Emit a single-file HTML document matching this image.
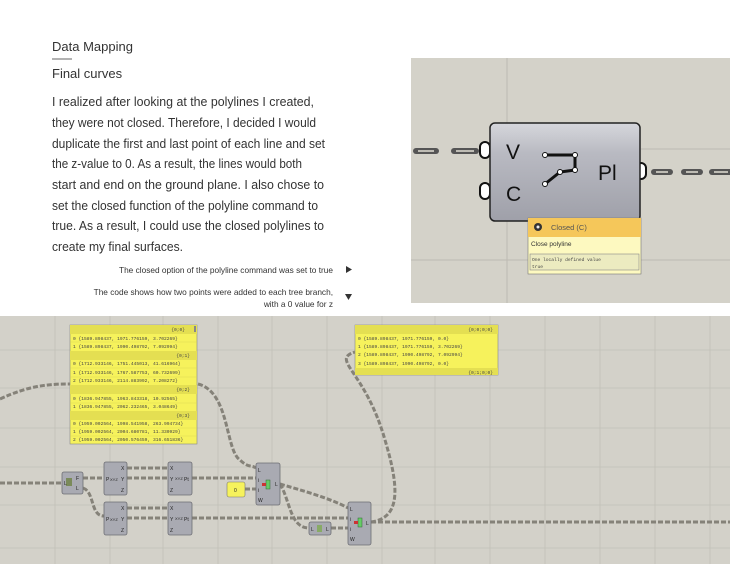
<!DOCTYPE html>
<html><head><meta charset="utf-8"><style>
html,body{margin:0;padding:0;background:#fff;width:730px;height:564px;overflow:hidden}
svg{display:block}
.t{font-family:"Liberation Sans",sans-serif;fill:#333}
.m{font-family:"Liberation Mono",monospace;font-size:4.6px;fill:#444}
.w{fill:none;stroke:#858279;stroke-width:3;stroke-dasharray:5 2}
.n{fill:#a9aab2;stroke:#6d6e74;stroke-width:0.8}
.nl{font-family:"Liberation Sans",sans-serif;font-size:5px;fill:#222}
</style></head><body>
<svg width="730" height="564" viewBox="0 0 730 564" xmlns="http://www.w3.org/2000/svg">
<rect width="730" height="564" fill="#fff"/>
<text class="t" x="52" y="51" font-size="13">Data Mapping</text>
<line x1="52" y1="59" x2="72" y2="59" stroke="#333" stroke-width="0.8"/>
<text class="t" x="52" y="78" font-size="13">Final curves</text>
<g class="t" font-size="12.6">
<text x="52" y="106" textLength="262" lengthAdjust="spacingAndGlyphs">I realized after looking at the polylines I created,</text>
<text x="52" y="127" textLength="264" lengthAdjust="spacingAndGlyphs">they were not closed. Therefore, I decided I would</text>
<text x="52" y="148" textLength="273" lengthAdjust="spacingAndGlyphs">duplicate the first and last point of each line and set</text>
<text x="52" y="168" textLength="250" lengthAdjust="spacingAndGlyphs">the z-value to 0. As a result, the lines would both</text>
<text x="52" y="189" textLength="272" lengthAdjust="spacingAndGlyphs">start and end on the ground plane. I also chose to</text>
<text x="52" y="210" textLength="266" lengthAdjust="spacingAndGlyphs">set the closed function of the polyline command to</text>
<text x="52" y="230" textLength="272" lengthAdjust="spacingAndGlyphs">true. As a result, I could use the closed polylines to</text>
<text x="52" y="251" textLength="131" lengthAdjust="spacingAndGlyphs">create my final surfaces.</text>
</g>
<g class="t" font-size="8.3" text-anchor="end">
<text x="333" y="273">The closed option of the polyline command was set to true</text>
<text x="333" y="295">The code shows how two points were added to each tree branch,</text>
<text x="333" y="307">with a 0 value for z</text>
</g>
<polygon points="346,266 352,269.5 346,273" fill="#333"/>
<polygon points="345,294 352,294 348.5,300" fill="#333"/>

<rect x="411" y="58" width="319" height="245" fill="#d4d2c9"/>
<line x1="507" y1="58" x2="507" y2="303" stroke="#bdbab2" stroke-width="1"/>
<line x1="641" y1="149" x2="730" y2="149" stroke="#bdbab2"/>
<line x1="411" y1="260" x2="730" y2="260" stroke="#bdbab2"/>
<g fill="none" stroke="#555" stroke-width="6" stroke-linecap="round">
<line x1="416" y1="151" x2="436" y2="151"/><line x1="454" y1="151" x2="476" y2="151"/>
<line x1="654" y1="172" x2="670" y2="172"/><line x1="684" y1="172" x2="700" y2="172"/><line x1="712" y1="172" x2="730" y2="172"/>
</g>
<g fill="none" stroke="#bebcb4" stroke-width="2"><line x1="418" y1="151" x2="434" y2="151"/><line x1="456" y1="151" x2="474" y2="151"/><line x1="656" y1="172" x2="668" y2="172"/><line x1="686" y1="172" x2="698" y2="172"/><line x1="714" y1="172" x2="728" y2="172"/></g>
<rect x="480" y="142" width="10" height="16" rx="5" fill="#fff" stroke="#111" stroke-width="2"/>
<rect x="480" y="183" width="10" height="16" rx="5" fill="#fff" stroke="#111" stroke-width="2"/>
<rect x="636" y="163" width="10" height="16" rx="5" fill="#fff" stroke="#111" stroke-width="2"/>
<defs><linearGradient id="g1" x1="0" y1="0" x2="0" y2="1"><stop offset="0" stop-color="#d6d7dc"/><stop offset="0.3" stop-color="#b9bac2"/><stop offset="1" stop-color="#9fa0a9"/></linearGradient></defs>
<rect x="490" y="123" width="150" height="98" rx="5" fill="url(#g1)" stroke="#222" stroke-width="1.5"/>
<text x="506" y="159" font-family="Liberation Sans,sans-serif" font-size="21" fill="#111">V</text>
<text x="506" y="201" font-family="Liberation Sans,sans-serif" font-size="21" fill="#111">C</text>
<text x="598" y="180" font-family="Liberation Sans,sans-serif" font-size="21" fill="#111">Pl</text>
<polyline points="545,155 575,155 575,170 560,172 545,184" fill="none" stroke="#111" stroke-width="3"/>
<g fill="#fff" stroke="#111" stroke-width="1"><circle cx="545" cy="155" r="2.5"/><circle cx="575" cy="155" r="2.5"/><circle cx="575" cy="170" r="2.5"/><circle cx="560" cy="172" r="2.5"/><circle cx="545" cy="184" r="2.5"/></g>
<rect x="528" y="218" width="113" height="56" fill="#fdf9c0" stroke="#777" stroke-width="0.6"/>
<rect x="528" y="218" width="113" height="19" fill="#f5c75a"/>
<circle cx="538" cy="227" r="4" fill="#333"/><circle cx="538" cy="227" r="1.5" fill="#eee"/>
<text x="551" y="230" font-family="Liberation Sans,sans-serif" font-size="7.5" fill="#555">Closed (C)</text>
<text x="531" y="246" font-family="Liberation Sans,sans-serif" font-size="6.5" fill="#333">Close polyline</text>
<rect x="530" y="254" width="109" height="16" fill="#ecebc0" stroke="#888" stroke-width="0.6"/>
<text x="532" y="261" class="m" font-size="5.5">One locally defined value</text>
<text x="532" y="268" class="m" font-size="5.5">true</text>

<rect x="0" y="316" width="730" height="248" fill="#d3d1c9"/>
<g stroke="#c2c0b8" stroke-width="0.8">
<line x1="55" y1="316" x2="55" y2="564"/><line x1="110" y1="316" x2="110" y2="564"/><line x1="163" y1="316" x2="163" y2="564"/><line x1="218" y1="316" x2="218" y2="564"/><line x1="272" y1="316" x2="272" y2="564"/><line x1="327" y1="316" x2="327" y2="564"/><line x1="382" y1="316" x2="382" y2="564"/><line x1="435" y1="316" x2="435" y2="564"/><line x1="490" y1="316" x2="490" y2="564"/><line x1="545" y1="316" x2="545" y2="564"/><line x1="600" y1="316" x2="600" y2="564"/><line x1="655" y1="316" x2="655" y2="564"/><line x1="710" y1="316" x2="710" y2="564"/>
<line x1="0" y1="350" x2="730" y2="350"/><line x1="0" y1="388" x2="730" y2="388"/><line x1="0" y1="428" x2="730" y2="428"/><line x1="0" y1="467" x2="730" y2="467"/><line x1="0" y1="505" x2="730" y2="505"/><line x1="0" y1="548" x2="730" y2="548"/>
</g>
<path class="w" d="M0,399 C30,385 50,384 70,384"/>
<path class="w" d="M198,384 C230,392 225,450 240,460 C248,468 252,465 256,468"/>
<path class="w" d="M0,483 L62,483"/>
<path class="w" d="M83,478 L104,478"/>
<path class="w" d="M83,488 C95,492 90,516 104,516"/>
<path class="w" d="M127,468 L168,468"/><path class="w" d="M127,478 L168,478"/>
<path class="w" d="M127,508 L168,508"/><path class="w" d="M127,518 L168,518"/>
<path class="w" d="M192,478 L256,478"/>
<path class="w" d="M192,518 L348,518"/>
<path class="w" d="M245,489 L256,489"/>
<path class="w" d="M280,484 C300,490 330,498 348,508"/>
<path class="w" d="M280,484 C290,500 290,528 309,528"/>
<path class="w" d="M331,528 L348,528"/>
<path class="w" d="M371,522 L730,522"/>
<path class="w" d="M371,522 C400,518 400,490 385,440 C365,370 330,360 355,352"/>
<rect x="70" y="325" width="127" height="119" fill="#f6f25c" stroke="#888" stroke-width="0.6"/>
<g fill="#e4df52"><rect x="70" y="325" width="127" height="9"/><rect x="70" y="351" width="127" height="9"/><rect x="70" y="385" width="127" height="9"/><rect x="70" y="411" width="127" height="9"/></g>
<g stroke="#d8d350" stroke-width="0.4"><line x1="70" y1="342" x2="197" y2="342"/><line x1="70" y1="368" x2="197" y2="368"/><line x1="70" y1="377" x2="197" y2="377"/><line x1="70" y1="403" x2="197" y2="403"/><line x1="70" y1="428" x2="197" y2="428"/><line x1="70" y1="436" x2="197" y2="436"/></g>
<g class="m">
<text x="185" y="331" text-anchor="end">{0;0}</text>
<text x="73" y="340">0 {1589.898437, 1971.776159, 3.702269}</text>
<text x="73" y="348">1 {1589.898437, 1990.498792, 7.092994}</text>
<text x="190" y="357" text-anchor="end">{0;1}</text>
<text x="73" y="365">0 {1712.933146, 1751.445013, 41.616964}</text>
<text x="73" y="374">1 {1712.933146, 1767.587753, 60.732699}</text>
<text x="73" y="382">2 {1712.933146, 2114.883992, 7.208272}</text>
<text x="190" y="391" text-anchor="end">{0;2}</text>
<text x="73" y="400">0 {1836.947855, 1963.843318, 10.92565}</text>
<text x="73" y="408">1 {1836.947855, 2062.232465, 3.048649}</text>
<text x="190" y="417" text-anchor="end">{0;3}</text>
<text x="73" y="425">0 {1959.002564, 1998.541958, 263.994734}</text>
<text x="73" y="433">1 {1959.002564, 2004.680781, 11.330929}</text>
<text x="73" y="441">2 {1959.002564, 2050.576459, 316.651836}</text>
</g>
<rect x="194" y="326" width="2" height="6" fill="#888"/>
<rect x="355" y="325" width="143" height="50" fill="#f6f25c" stroke="#888" stroke-width="0.6"/>
<rect x="355" y="325" width="143" height="9" fill="#e4df52"/>
<rect x="355" y="368" width="143" height="7" fill="#e4df52"/>
<g class="m">
<text x="493" y="331" text-anchor="end">{0;0;0;0}</text>
<text x="358" y="340">0 {1589.898437, 1971.776159, 0.0}</text>
<text x="358" y="348">1 {1589.898437, 1971.776159, 3.702269}</text>
<text x="358" y="356">2 {1589.898437, 1990.498792, 7.092994}</text>
<text x="358" y="365">3 {1589.898437, 1990.498792, 0.0}</text>
<text x="493" y="374" text-anchor="end">{0;1;0;0}</text>
</g>
<rect x="62" y="472" width="21" height="22" rx="2" class="n"/>
<rect x="66" y="478" width="6" height="8" fill="#7a8a5a"/>
<rect x="104" y="462" width="23" height="33" rx="2" class="n"/>
<rect x="104" y="502" width="23" height="33" rx="2" class="n"/>
<rect x="168" y="462" width="24" height="33" rx="2" class="n"/>
<rect x="168" y="502" width="24" height="33" rx="2" class="n"/>
<g class="nl">
<text x="106" y="481">P</text><text x="121" y="470">X</text><text x="121" y="481">Y</text><text x="121" y="492">Z</text><text x="110" y="481" font-size="4">XYZ</text>
<text x="106" y="521">P</text><text x="121" y="510">X</text><text x="121" y="521">Y</text><text x="121" y="532">Z</text><text x="110" y="521" font-size="4">XYZ</text>
<text x="170" y="470">X</text><text x="170" y="481">Y</text><text x="170" y="492">Z</text><text x="184" y="481">Pt</text><text x="175" y="480" font-size="4">XYZ</text>
<text x="170" y="510">X</text><text x="170" y="521">Y</text><text x="170" y="532">Z</text><text x="184" y="521">Pt</text><text x="175" y="520" font-size="4">XYZ</text>
<text x="64" y="485">L</text><text x="76" y="480">F</text><text x="76" y="490">L</text>
</g>
<rect x="227" y="482" width="18" height="15" rx="2" fill="#f6f25c" stroke="#777" stroke-width="0.6"/>
<text x="234" y="492" class="nl">0</text>
<rect x="256" y="463" width="24" height="42" rx="2" class="n"/>
<g class="nl"><text x="258" y="472">L</text><text x="258" y="482">i</text><text x="258" y="492">i</text><text x="258" y="502">W</text><text x="275" y="486">L</text></g>
<rect x="266" y="480" width="4" height="9" fill="#6c6" stroke="#363" stroke-width="0.5"/><rect x="262" y="483" width="4" height="3" fill="#c33"/>
<rect x="309" y="522" width="22" height="13" rx="2" class="n"/>
<rect x="317" y="525" width="5" height="7" fill="#8a6"/><text x="311" y="531" class="nl">L</text><text x="326" y="531" class="nl">L</text>
<rect x="348" y="502" width="23" height="43" rx="2" class="n"/>
<g class="nl"><text x="350" y="511">L</text><text x="350" y="521">i</text><text x="350" y="531">i</text><text x="350" y="541">W</text><text x="366" y="525">L</text></g>
<rect x="358" y="518" width="4" height="9" fill="#6c6" stroke="#363" stroke-width="0.5"/><rect x="354" y="521" width="4" height="3" fill="#c33"/>
</svg>
</body></html>
